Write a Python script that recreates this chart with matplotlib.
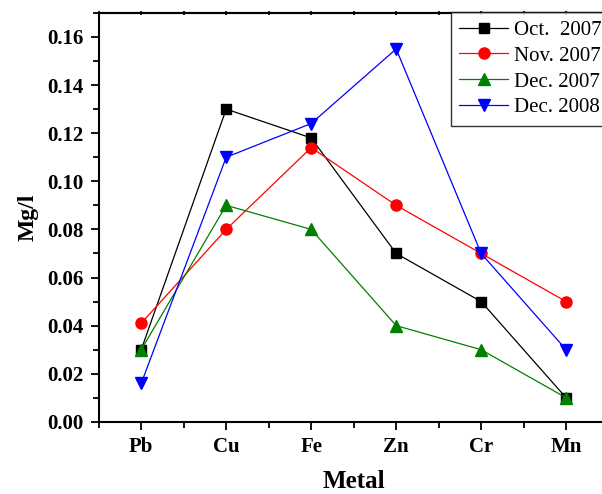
import matplotlib

matplotlib.use("Agg")
import matplotlib.pyplot as plt
from matplotlib.ticker import MultipleLocator, FormatStrFormatter, NullFormatter

metals = ["Pb", "Cu", "Fe", "Zn", "Cr", "Mn"]
oct_2007 = [0.030, 0.130, 0.118, 0.070, 0.050, 0.010]
nov_2007 = [0.041, 0.080, 0.114, 0.090, 0.070, 0.050]
dec_2007 = [0.030, 0.090, 0.080, 0.040, 0.030, 0.010]
dec_2008 = [0.016, 0.110, 0.124, 0.155, 0.070, 0.030]

plt.rcParams["font.family"] = ["Liberation Serif", "DejaVu Serif"]

fig = plt.figure(figsize=(6.02, 4.94), dpi=100)
# the original picture is cropped on the right, so the axes run past the edge
ax = fig.add_axes([0.164, 0.146, 0.847, 0.828])

x = list(range(len(metals)))
ax.plot(x, oct_2007, color="black", marker="s", ms=7, lw=0.9, label="Oct.  2007")
ax.plot(x, nov_2007, color="red", marker="o", ms=8, lw=0.9, label="Nov. 2007")
ax.plot(x, dec_2007, color="green", marker="^", ms=8, lw=0.9, label="Dec. 2007")
ax.plot(x, dec_2008, color="blue", marker="v", ms=8, lw=0.9, label="Dec. 2008")

ax.set_xlim(-0.5, 5.5)
ax.set_ylim(0, 0.17)
ax.set_xticks(x)
ax.set_xticklabels(metals)
ax.xaxis.set_minor_locator(MultipleLocator(0.5))
ax.yaxis.set_major_locator(MultipleLocator(0.02))
ax.yaxis.set_minor_locator(MultipleLocator(0.01))
ax.yaxis.set_major_formatter(FormatStrFormatter("%.2f"))

for s in ax.spines.values():
    s.set_linewidth(1.5)

ax.tick_params(axis="both", which="major", direction="out", length=6, width=1.3,
               labelsize=15, pad=5)
ax.tick_params(axis="both", which="minor", direction="out", length=4, width=1.3)
for lab in ax.get_xticklabels() + ax.get_yticklabels():
    lab.set_fontweight("bold")

# small ticks along the top edge
top = ax.secondary_xaxis("top")
top.xaxis.set_major_locator(MultipleLocator(0.5))
top.xaxis.set_major_formatter(NullFormatter())
top.tick_params(direction="inout", length=3, width=1.2)
top.spines["top"].set_linewidth(1.5)

ax.set_xlabel("Metal", fontsize=18, fontweight="bold", labelpad=9)
ax.set_ylabel("Mg/l", fontsize=17, fontweight="bold", labelpad=6)

leg = ax.legend(loc="upper left", bbox_to_anchor=(0.691, 1.002), fontsize=15,
                frameon=True, fancybox=False, edgecolor="black",
                handlelength=2.35, handletextpad=0.25, borderpad=0.4,
                labelspacing=0.3, borderaxespad=0.0)
leg.get_frame().set_linewidth(1.0)

plt.savefig("out.png", dpi=100)
plt.close()
